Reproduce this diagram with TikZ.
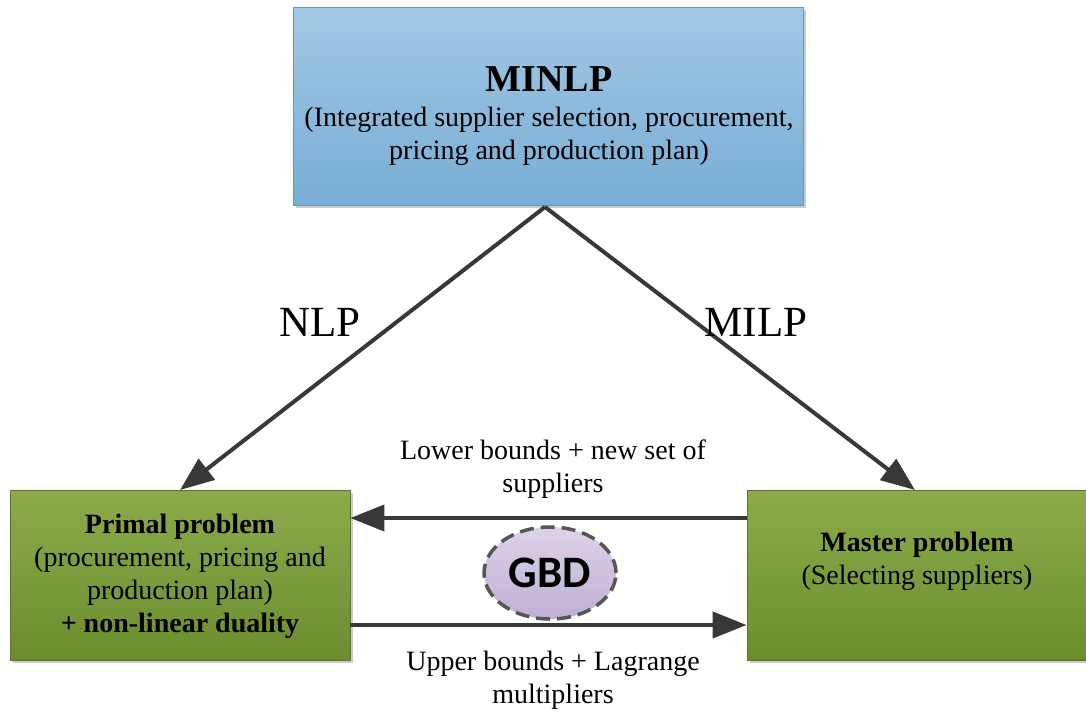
\documentclass[tikz,border=0pt]{standalone}
\usepackage{fontspec}
\setmainfont{Liberation Serif}
\newfontfamily\gbdfont{Carlito}
\usetikzlibrary{arrows.meta,shadows,shapes.geometric}

\definecolor{bluetop}{HTML}{A3C8E4}
\definecolor{bluebot}{HTML}{78ADD5}
\definecolor{blueline}{HTML}{6F94B4}
\definecolor{greentop}{HTML}{8DAB4B}
\definecolor{greenbot}{HTML}{6C8C2E}
\definecolor{greenline}{HTML}{5A7626}
\definecolor{lavtop}{HTML}{DCD2E8}
\definecolor{lavbot}{HTML}{C0AFD3}
\definecolor{arrowgrey}{HTML}{383838}

\tikzset{
  softshadow/.style={drop shadow={shadow xshift=3pt, shadow yshift=-3pt, fill=black!45, opacity=.45}},
  problembox/.style={rectangle, draw=blueline, line width=0.8pt, top color=bluetop, bottom color=bluebot, softshadow},
  subbox/.style={rectangle, draw=greenline, line width=0.8pt, top color=greentop, bottom color=greenbot, softshadow},
  txt/.style={align=center, font=\fontsize{28}{33}\selectfont, inner sep=0pt},
  bigtxt/.style={font=\fontsize{43}{46}\selectfont, inner sep=0pt},
  flow/.style={draw=arrowgrey, line width=4pt, -{Triangle[length=34pt,width=26pt]}},
}

\begin{document}
\begin{tikzpicture}[x=1pt,y=-1pt]
  \useasboundingbox (0,0) rectangle (1086,713);

  % top problem
  \node[problembox, minimum width=510pt, minimum height=198pt] (minlp) at (548,106) {};
  \node[txt, font=\fontsize{38}{40}\selectfont\bfseries] (minlpT) at (549,79) {MINLP};
  \node[txt] (minlpS) at (549,136) {(Integrated supplier selection, procurement,\\pricing and production plan)};

  % sub-problems
  \node[subbox, minimum width=340pt, minimum height=170pt] (primal) at (180,575) {};
  \node[txt] (primalT) at (180,576) {\textbf{Primal problem}\\(procurement, pricing and\\production plan)\\\textbf{+ non-linear duality}};

  \node[subbox, minimum width=342pt, minimum height=170pt] (master) at (918,575) {};
  \node[txt] (masterT) at (917,561) {\textbf{Master problem}\\(Selecting suppliers)};

  % decomposition
  \coordinate (apex) at (545,207);
  \coordinate (pTop) at (180,490);
  \coordinate (mTop) at (915,490);
  \draw[flow] (apex) -- (pTop);
  \draw[flow] (apex) -- (mTop);
  \node[bigtxt] (nlp) at (320,322) {NLP};
  \node[bigtxt] (milp) at (756,322) {MILP};

  % iteration between primal and master
  \coordinate (mUp) at (master.west |- 0,518);
  \coordinate (pUp) at (primal.east |- 0,518);
  \coordinate (pLow) at (primal.east |- 0,625);
  \coordinate (mLow) at (master.west |- 0,625);
  \draw[flow] (mUp) -- (pUp);
  \draw[flow] (pLow) -- (mLow);
  \node[txt] (lowerT) at (553,469) {Lower bounds + new set of\\suppliers};
  \node[txt] (upperT) at (553,680) {Upper bounds + Lagrange\\multipliers};

  \node[ellipse, draw=arrowgrey!85, line width=3.5pt, dash pattern=on 14pt off 7pt,
        top color=lavtop, bottom color=lavbot, minimum width=132pt, minimum height=92pt,
        inner sep=0pt, font=\gbdfont\bfseries\fontsize{45}{48}\selectfont] (gbd) at (550,573) {GBD};
\end{tikzpicture}
\end{document}
